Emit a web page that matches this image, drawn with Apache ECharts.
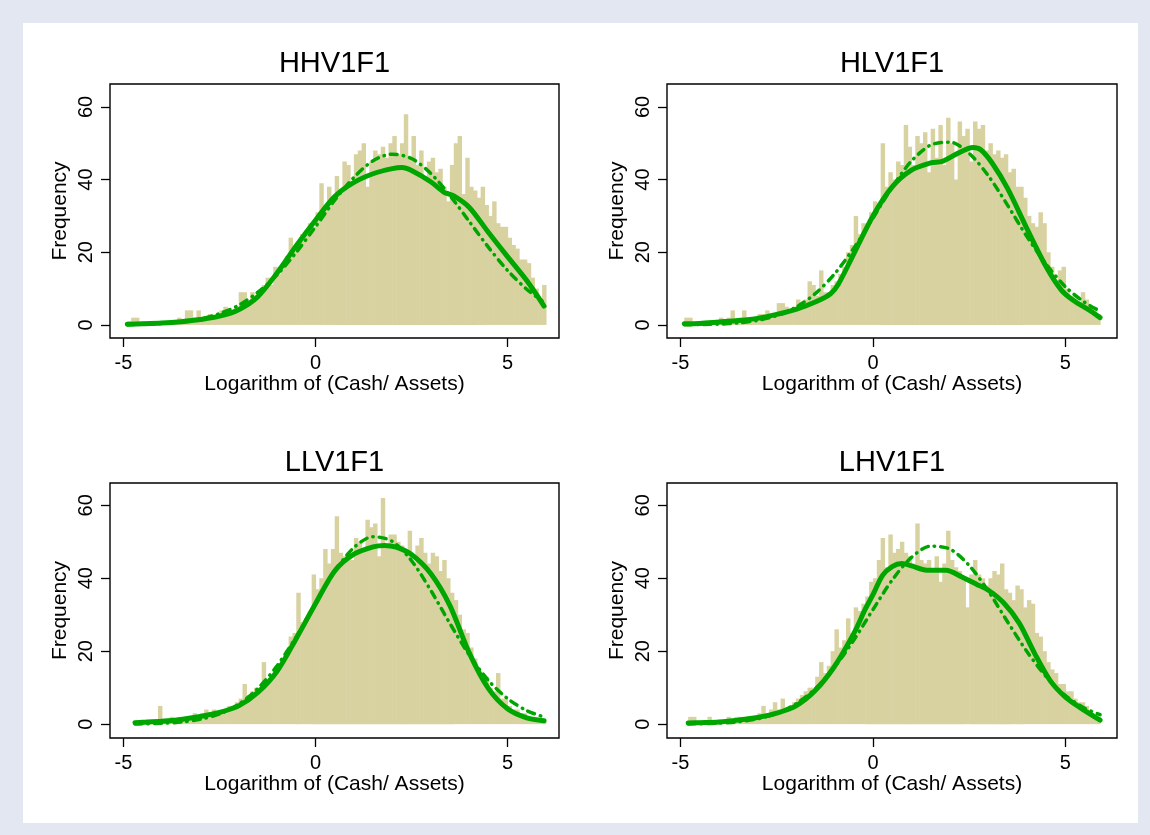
<!DOCTYPE html>
<html>
<head>
<meta charset="utf-8">
<script src="https://cdn.jsdelivr.net/npm/echarts@6/dist/echarts.min.js"></script>
<style>
html,body{margin:0;padding:0;background:#e2e7f1;}
#c{width:1150px;height:835px;}
</style>
</head>
<body>
<div id="c"></div>
<script>
// ---------- data ----------
const panelTitles = ['HHV1F1', 'HLV1F1', 'LLV1F1', 'LHV1F1'];
const xAxisTitle = 'Logarithm of (Cash/ Assets)';
const yAxisTitle = 'Frequency';
const xTickValues = [-5, 0, 5];
const yTickValues = [0, 20, 40, 60];
const binWidth = 0.1;

// HHV1F1 histogram (bin centres start at -4.85)
const binStartHHV = -4.85;
const freqHHV = [
  1,2,2,0,1,1,0,1,1,0,
  1,1,1,2,1,4,4,2,4,2,
  2,3,2,3,4,5,3,4,5,9,
  9,6,9,7,8,11,13,11,16,14,
  17,19,24,20,22,25,26,28,27,31,
  39,33,38,35,41,36,45,44,39,47,
  48,50,38,45,48,47,49,46,50,52,
  47,50,58,46,52,44,48,41,45,46,
  42,43,38,34,44,50,52,36,46,38,
  37,35,38,33,30,34,28,27,27,24,
  22,21,18,18,17,13,10,7,11
];
const kdensHHV = [[-4.9,0.2],[-4.5,0.3],[-4,0.5],[-3.5,0.9],[-3,1.5],[-2.5,2.4],[-2,4.2],[-1.5,7.8],[-1,14.3],[-0.5,21.8],[0,28.8],[0.5,35.3],[1,39.2],[1.5,41.6],[2,43.0],[2.25,43.3],[2.5,42.5],[3,39.4],[3.35,36.5],[3.6,35.5],[4,32.4],[4.5,25.5],[5,18.8],[5.5,12.2],[5.95,5.2]];
const normHHV = [[-4.9,0.08],[-4.5,0.17],[-4,0.38],[-3.5,0.82],[-3,1.65],[-2.5,3.1],[-2,5.4],[-1.5,9.0],[-1,13.8],[-0.5,20],[0,27],[0.5,34.3],[1,40.6],[1.5,45.2],[2,47],[2.5,45.8],[3,41.7],[3.5,35.6],[4,28.5],[4.5,21.4],[5,15],[5.5,9.8],[5.9,6.6]];

// HLV1F1 histogram
const binStartHLV = -4.85;
const freqHLV = [
  2,2,0,1,1,0,1,1,1,2,
  1,2,4,1,2,4,2,1,2,3,
  3,4,2,3,6,6,5,4,5,7,
  6,7,12,11,8,15,9,9,11,12,
  14,16,20,22,30,25,28,27,31,34,
  33,50,38,42,40,45,44,55,49,44,
  52,50,53,42,54,46,55,44,57,50,
  40,56,52,54,45,56,54,55,48,50,
  47,48,46,47,42,43,38,38,35,30,
  28,27,31,28,20,16,12,15,16,10,
  8,8,6,9,7,4,4,3
];
const kdensHLV = [[-4.9,0.3],[-4.5,0.4],[-4,0.8],[-3.5,1.2],[-3,1.8],[-2.5,2.9],[-2,4.3],[-1.5,6.3],[-1.1,8.6],[-0.9,11.2],[-0.5,19.5],[0,30],[0.5,38],[1,42.6],[1.5,44.6],[1.8,45.0],[2.2,47.2],[2.6,48.8],[2.8,48.2],[3.1,44.5],[3.5,37.5],[4,26.5],[4.5,16],[4.9,9.5],[5.2,6.8],[5.6,4.2],[5.9,2.0]];
const normHLV = [[-4.9,0.05],[-4.5,0.1],[-4,0.23],[-3.5,0.55],[-3,1.23],[-2.5,2.55],[-2,4.87],[-1.5,8.6],[-1,14],[-0.5,21.1],[0,29.4],[0.5,37.9],[1,45.1],[1.5,49.5],[2,50.3],[2.5,47.2],[3,41],[3.5,32.9],[4,24.3],[4.5,16.7],[5,10.5],[5.5,6.2],[5.9,3.8]];

// LLV1F1 histogram
const binStartLLV = -4.65;
const freqLLV = [
  1,0,1,1,1,1,5,1,1,2,
  1,2,1,2,2,3,2,3,4,3,
  4,3,4,3,5,4,6,7,11,8,
  9,10,10,17,12,13,14,16,18,20,
  24,25,36,28,29,31,41,37,40,48,
  44,48,57,47,46,47,45,51,50,48,
  56,54,55,46,62,49,52,52,50,49,
  48,53,44,49,51,47,44,47,46,42,
  45,40,36,34,30,26,25,21,18,15,
  12,13,10,9,14,7,7,5,4,4,
  3,3,2,2,2,1,1
];
const kdensLLV = [[-4.7,0.4],[-4.5,0.5],[-4,0.8],[-3.5,1.3],[-3,2.1],[-2.5,3.2],[-2,5.0],[-1.5,8.7],[-1,14.5],[-0.5,23.5],[0,33],[0.5,42],[1,46.6],[1.5,48.6],[1.8,49],[2.1,48.5],[2.5,46.5],[3,41.3],[3.5,32.5],[4,19.6],[4.5,9.8],[5,4.2],[5.5,1.7],[5.95,0.9]];
const normLLV = [[-4.7,0.05],[-4.5,0.08],[-4,0.23],[-3.5,0.57],[-3,1.32],[-2.5,2.81],[-2,5.47],[-1.5,9.77],[-1,16],[-0.5,24],[0,33.1],[0.5,41.8],[1,48.4],[1.5,51.4],[2,50.1],[2.5,44.8],[3,36.7],[3.5,27.6],[4,19],[4.5,12],[5,7],[5.5,3.7],[5.95,1.95]];

// LHV1F1 histogram
const binStartLHV = -4.75;
const freqLHV = [
  2,2,1,0,1,2,1,0,1,1,
  2,1,2,2,1,2,2,2,3,5,
  3,4,6,4,7,4,5,6,7,8,
  9,10,10,13,17,14,16,20,26,21,
  23,29,25,32,31,33,35,39,40,45,
  51,43,52,47,48,50,47,46,44,55,
  45,44,45,42,46,39,44,53,45,43,
  42,40,32,41,45,41,40,38,40,42,
  41,44,37,36,34,38,37,32,34,33,
  25,24,20,17,15,14,11,11,9,9,
  7,6,6,5,3,2,2
];
const kdensLHV = [[-4.8,0.3],[-4.5,0.4],[-4,0.6],[-3.5,1.1],[-3,1.8],[-2.5,3.0],[-2,5.0],[-1.5,9.2],[-1,15.8],[-0.5,24.8],[-0.2,31.5],[0,35.5],[0.25,40.8],[0.5,43.2],[0.75,44],[1,43.4],[1.4,42.2],[1.9,42.2],[2.3,40.4],[2.7,38.3],[3,36.7],[3.4,33.2],[3.8,27.7],[4.2,19.4],[4.6,12],[5,7.4],[5.4,4.4],[5.9,1.1]];
const normLHV = [[-4.8,0.05],[-4.5,0.1],[-4,0.27],[-3.5,0.65],[-3,1.44],[-2.5,2.94],[-2,5.57],[-1.5,9.7],[-1,15.6],[-0.5,23],[0,31.4],[0.5,39.5],[1,45.7],[1.5,48.8],[2,48],[2.5,43.5],[3,36.4],[3.5,28],[4,19.9],[4.5,13],[5,7.8],[5.5,4.36],[5.9,2.6]];

// ---------- layout / style ----------
const FONT = '"Liberation Sans", Arial, Helvetica, sans-serif';
const BAR_COLOR = '#d8d2a1';
const GREEN = '#00a600';

const panels = [
  {start: binStartHHV, freq: freqHHV, kd: kdensHHV, nm: normHHV},
  {start: binStartHLV, freq: freqHLV, kd: kdensHLV, nm: normHLV},
  {start: binStartLLV, freq: freqLLV, kd: kdensLLV, nm: normLLV},
  {start: binStartLHV, freq: freqLHV, kd: kdensLHV, nm: normLHV}
];
const gridBoxes = [
  {left: 110, top: 84, width: 449, height: 254, ymin: -3.6, ymax: 66.3},
  {left: 667, top: 84, width: 450, height: 254, ymin: -3.6, ymax: 66.3},
  {left: 110, top: 483, width: 449, height: 255, ymin: -3.8, ymax: 66.1},
  {left: 667, top: 483, width: 450, height: 255, ymin: -3.8, ymax: 66.1}
];
const titleTops = [49, 49, 448.5, 448.5];

function renderBar(params, api) {
  const x = api.value(0), y = api.value(1);
  const a = api.coord([x - binWidth / 2, y]);
  const b = api.coord([x + binWidth / 2, 0]);
  return {
    type: 'rect',
    shape: {x: a[0], y: a[1], width: b[0] - a[0] + 0.6, height: b[1] - a[1]},
    style: {fill: BAR_COLOR}
  };
}

const option = {
  animation: false,
  backgroundColor: 'transparent',
  graphic: [{
    type: 'rect', z: -100, silent: true,
    shape: {x: 23, y: 23, width: 1115, height: 800},
    style: {fill: '#ffffff'}
  }],
  title: panelTitles.map((t, i) => ({
    text: t,
    left: gridBoxes[i].left + gridBoxes[i].width / 2,
    top: titleTops[i],
    textAlign: 'center',
    padding: 0,
    textStyle: {fontSize: 29, fontWeight: 'normal', color: '#000', fontFamily: FONT}
  })),
  grid: gridBoxes.map(g => ({
    left: g.left, top: g.top, width: g.width, height: g.height,
    show: true, borderColor: '#000', borderWidth: 1.4, backgroundColor: '#fff',
    containLabel: false
  })),
  xAxis: gridBoxes.map((g, i) => ({
    gridIndex: i, type: 'value', position: 'bottom', min: -5.35, max: 6.34,
    axisLine: {show: false, onZero: false},
    splitLine: {show: false},
    axisTick: {show: true, length: 9, customValues: xTickValues, lineStyle: {color: '#000', width: 1.3}},
    axisLabel: {margin: 15, fontSize: 20, color: '#000', fontFamily: FONT, customValues: xTickValues},
    name: xAxisTitle, nameLocation: 'middle', nameGap: 36,
    nameTextStyle: {fontSize: 21, color: '#000', fontFamily: FONT}
  })),
  yAxis: gridBoxes.map((g, i) => ({
    gridIndex: i, type: 'value', position: 'left', min: g.ymin, max: g.ymax,
    axisLine: {show: false, onZero: false},
    splitLine: {show: false},
    axisTick: {show: true, length: 9, customValues: yTickValues, lineStyle: {color: '#000', width: 1.3}},
    axisLabel: {rotate: 90, margin: 14, fontSize: 20, color: '#000', fontFamily: FONT, customValues: yTickValues},
    name: yAxisTitle, nameLocation: 'middle', nameGap: 39,
    nameTextStyle: {fontSize: 21, color: '#000', fontFamily: FONT}
  })),
  series: []
};

panels.forEach((p, i) => {
  option.series.push({
    type: 'custom', xAxisIndex: i, yAxisIndex: i, z: 2, silent: true,
    renderItem: renderBar,
    encode: {x: 0, y: 1},
    data: p.freq.map((v, k) => [Math.round((p.start + k * binWidth) * 100) / 100, v])
  });
  option.series.push({
    type: 'line', xAxisIndex: i, yAxisIndex: i, z: 3, silent: true,
    data: p.nm, smooth: 0.3, showSymbol: false, symbol: 'none',
    lineStyle: {color: GREEN, width: 3.5, type: [7, 6, 0.5, 6], cap: 'round'}
  });
  option.series.push({
    type: 'line', xAxisIndex: i, yAxisIndex: i, z: 4, silent: true,
    data: p.kd, smooth: 0.3, showSymbol: false, symbol: 'none',
    lineStyle: {color: GREEN, width: 5, cap: 'round', join: 'round'}
  });
});

const chart = echarts.init(document.getElementById('c'), null, {renderer: 'canvas'});
chart.setOption(option);
</script>
</body>
</html>
